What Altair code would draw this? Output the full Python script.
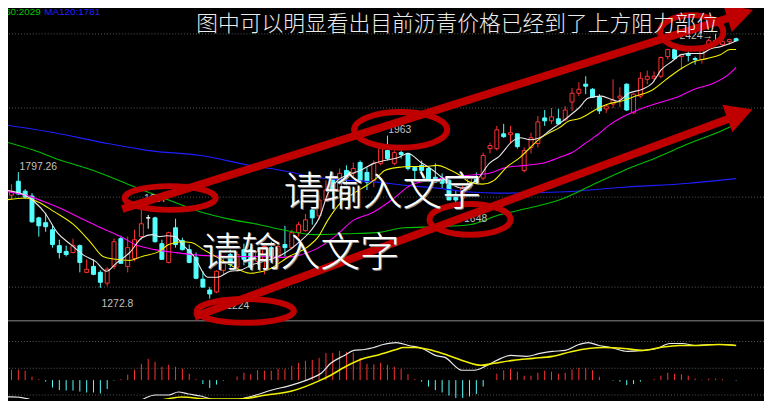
import altair as alt
import pandas as pd

# ---------------- data ----------------
OPEN = [1693, 1756, 1711, 1689, 1590, 1568, 1536, 1464, 1438, 1433,
        1464, 1343, 1370, 1343, 1294, 1370, 1496, 1370, 1406, 1505,
        1590, 1590, 1473, 1388, 1545, 1487, 1446, 1411, 1312, 1263,
        1254, 1352, 1424, 1366, 1446, 1446, 1393, 1402, 1455, 1411,
        1469, 1455, 1523, 1532, 1626, 1599, 1671, 1770, 1716, 1805,
        1792, 1841, 1796, 1760, 1837, 1895, 1837, 1886, 1882, 1819,
        1828, 1814, 1774, 1770, 1760, 1684, 1680, 1725, 1774, 1770,
        1904, 1904, 1971, 1967, 1971, 1805, 1909, 1927, 2043, 2030,
        2039, 2034, 2115, 2155, 2196, 2173, 2137, 2084, 2106, 2133,
        2196, 2066, 2142, 2218, 2223, 2232, 2321, 2353, 2321, 2335,
        2312, 2308, 2375, 2393, 2375, 2389, 2402]
HIGH = [1743, 1797.26, 1720, 1702, 1595, 1613, 1554, 1491, 1464, 1496,
        1469, 1402, 1402, 1352, 1366, 1496, 1509, 1505, 1536, 1657,
        1603, 1595, 1491, 1527, 1586, 1500, 1469, 1433, 1348, 1276,
        1352, 1411, 1446, 1438, 1473, 1460, 1455, 1473, 1482, 1482,
        1554, 1536, 1572, 1608, 1639, 1693, 1760, 1796, 1814, 1828,
        1841, 1850, 1819, 1850, 1913, 1963, 1895, 1895, 1886, 1823,
        1850, 1819, 1837, 1792, 1770, 1716, 1738, 1774, 1796, 1886,
        1931, 2007, 2016, 2007, 1971, 1909, 1976, 2052, 2079, 2088,
        2084, 2097, 2178, 2205, 2232, 2178, 2151, 2106, 2218, 2182,
        2200, 2155, 2250, 2258, 2254, 2321, 2357, 2357, 2335, 2344,
        2321, 2357, 2402, 2424, 2398, 2402, 2407]
LOW = [1675, 1693, 1675, 1568, 1505, 1527, 1455, 1406, 1415, 1429,
       1343, 1339, 1330, 1272.8, 1280, 1357, 1384, 1343, 1393, 1491,
       1541, 1478, 1402, 1384, 1455, 1442, 1384, 1312, 1276, 1224,
       1249, 1334, 1366, 1348, 1375, 1357, 1375, 1334, 1393, 1370,
       1415, 1446, 1505, 1527, 1559, 1581, 1662, 1693, 1680, 1738,
       1774, 1752, 1716, 1729, 1828, 1850, 1828, 1859, 1805, 1752,
       1787, 1752, 1752, 1725, 1671, 1648, 1662, 1716, 1747, 1760,
       1882, 1895, 1953, 1927, 1904, 1796, 1882, 1909, 2007, 2016,
       2016, 2030, 2075, 2142, 2151, 2133, 2061, 2066, 2088, 2093,
       2075, 2061, 2133, 2196, 2209, 2223, 2308, 2312, 2263, 2299,
       2285, 2290, 2357, 2380, 2366, 2375, 2389]
CLOSE = [1711, 1698, 1684, 1572, 1554, 1550, 1469, 1433, 1424, 1464,
         1388, 1357, 1334, 1298, 1357, 1482, 1384, 1455, 1491, 1563,
         1590, 1482, 1402, 1523, 1469, 1446, 1388, 1316, 1276, 1245,
         1348, 1384, 1379, 1424, 1402, 1366, 1438, 1460, 1415, 1460,
         1455, 1523, 1559, 1581, 1590, 1671, 1716, 1716, 1792, 1774,
         1814, 1760, 1752, 1837, 1904, 1859, 1886, 1877, 1814, 1805,
         1805, 1760, 1752, 1747, 1671, 1671, 1725, 1770, 1752, 1873,
         1918, 1989, 1958, 1976, 1913, 1895, 1953, 2025, 2030, 2048,
         2016, 2079, 2155, 2173, 2187, 2137, 2075, 2097, 2124, 2142,
         2079, 2151, 2223, 2232, 2232, 2317, 2353, 2312, 2330, 2326,
         2308, 2348, 2393, 2384, 2389, 2398, 2393]
MACD_HIST = [21, 21, 19, 7, 2, -3, -15, -20, -21, -21,
             -23, -25, -25, -27, -18, -1, 2, 11, 21, 33,
             43, 37, 27, 31, 27, 23, 13, 2, -8, -16,
             -9, -1, 0, 7, 15, 12, 20, 19, 19, 23,
             23, 29, 35, 39, 41, 45, 55, 55, 59, 57,
             55, 45, 33, 32, 35, 31, 27, 23, 12, 2,
             -3, -13, -20, -25, -31, -36, -36, -33, -28, -13,
             0, 13, 20, 23, 17, 9, 9, 15, 19, 17,
             13, 15, 22, 25, 25, 20, 7, 0, -1, -3,
             -10, -8, -3, 0, 2, 9, 15, 13, 12, 9,
             3, 1, 3, 3, 2, 0, -1]

MA5 = [(-0.9, 1716), (2.0, 1693), (3.4, 1662), (4.9, 1612), (6.7, 1523), (8.7, 1469), (10.6, 1420),
       (12.3, 1393), (13.9, 1348), (15.3, 1384), (17.3, 1433), (19.1, 1500), (20.6, 1514), (21.6, 1505),
       (22.7, 1509), (23.9, 1505), (25.3, 1460), (26.7, 1415), (28.7, 1321), (30.1, 1321), (32.0, 1348),
       (33.4, 1352), (35.3, 1379), (37.0, 1393), (39.6, 1424), (42.0, 1478), (43.9, 1536), (45.1, 1595),
       (46.3, 1702), (47.7, 1760), (49.1, 1783), (51.0, 1805), (53.0, 1837), (54.6, 1850), (56.6, 1864),
       (58.0, 1882), (59.9, 1841), (61.3, 1814), (63.1, 1770), (64.6, 1738), (66.0, 1725), (67.4, 1747),
       (68.4, 1774), (69.9, 1837), (71.3, 1868), (73.4, 1940), (74.4, 1953), (75.9, 1944), (77.3, 1953),
       (78.7, 1985), (80.1, 2016), (81.6, 2052), (83.0, 2088), (84.4, 2133), (86.3, 2142), (87.7, 2128),
       (88.7, 2119), (90.3, 2155), (92.3, 2173), (93.7, 2200), (95.1, 2263), (96.6, 2299), (98.0, 2330),
       (99.4, 2335), (100.9, 2335), (102.3, 2357), (103.7, 2366), (105.1, 2380), (106.0, 2393)]
MA10 = [(-0.9, 1671), (2.0, 1680), (3.9, 1662), (6.3, 1617), (9.1, 1559), (11.6, 1478), (13.4, 1415),
        (15.3, 1402), (17.3, 1397), (19.1, 1415), (21.6, 1438), (23.0, 1469), (24.9, 1482), (26.3, 1478),
        (28.1, 1446), (30.1, 1411), (32.4, 1370), (34.9, 1339), (37.7, 1357), (40.6, 1415), (43.4, 1460),
        (44.9, 1505), (46.3, 1581), (48.1, 1657), (50.1, 1702), (52.0, 1738), (53.4, 1770), (54.6, 1805),
        (56.6, 1819), (58.4, 1823), (60.3, 1823), (62.3, 1828), (63.7, 1814), (65.6, 1783), (67.0, 1752),
        (68.9, 1743), (70.6, 1760), (72.4, 1819), (74.4, 1864), (75.9, 1909), (77.3, 1949), (78.7, 1976),
        (80.1, 1998), (81.6, 2030), (83.0, 2039), (84.4, 2061), (85.9, 2088), (87.3, 2106), (89.1, 2119),
        (91.3, 2142), (93.7, 2169), (96.0, 2223), (98.0, 2267), (99.9, 2299), (101.7, 2312), (103.7, 2330),
        (105.1, 2353), (106.0, 2353)]
MA20 = [(-0.9, 1711), (2.0, 1693), (4.9, 1662), (7.7, 1626), (10.6, 1581), (13.4, 1541), (16.3, 1500),
        (18.1, 1469), (21.0, 1446), (23.9, 1433), (27.7, 1420), (32.4, 1415), (36.3, 1415), (39.6, 1411),
        (44.4, 1446), (47.3, 1505), (50.1, 1581), (52.7, 1612), (55.6, 1671), (58.4, 1738), (61.3, 1760),
        (64.1, 1774), (67.0, 1783), (69.9, 1792), (72.4, 1819), (75.3, 1828), (78.1, 1841), (80.1, 1864),
        (82.0, 1886), (83.9, 1927), (85.9, 1971), (87.7, 2016), (89.1, 2043), (91.3, 2075), (94.1, 2106),
        (97.0, 2133), (99.9, 2173), (102.7, 2200), (105.1, 2245), (106.0, 2272)]
MA60 = [(-0.9, 1935), (3.4, 1895), (7.3, 1850), (12.0, 1805), (16.7, 1747), (23.0, 1671), (27.7, 1617),
        (32.4, 1581), (36.3, 1559), (39.6, 1536), (44.4, 1514), (49.1, 1518), (53.4, 1523), (57.4, 1545),
        (62.3, 1550), (67.0, 1559), (71.3, 1603), (76.3, 1639), (80.1, 1671), (84.9, 1738), (89.6, 1805),
        (94.4, 1864), (99.1, 1927), (103.9, 1985), (106.0, 2016)]
MA120 = [(-0.9, 2012), (6.3, 1976), (13.4, 1931), (20.1, 1895), (27.7, 1873), (34.9, 1828), (39.6, 1805),
         (44.4, 1774), (49.1, 1760), (53.4, 1752), (57.4, 1738), (62.3, 1725), (67.0, 1707), (71.3, 1702),
         (80.1, 1707), (89.6, 1729), (99.1, 1747), (106.0, 1768)]
DIF = [(-0.9, -34), (0.1, -34), (2.4, -38), (4.9, -52), (10.6, -72), (14.9, -72), (17.7, -52), (19.6, -36),
       (21.0, -30), (23.0, -30), (24.4, -24), (25.9, -28), (27.7, -32), (29.9, -40), (32.4, -40), (35.3, -32),
       (38.1, -20), (41.0, -10), (43.9, 4), (45.3, 14), (46.7, 34), (48.7, 50), (50.1, 60), (51.6, 62),
       (53.0, 66), (54.4, 72), (56.3, 76), (58.1, 70), (60.1, 64), (62.0, 50), (63.4, 46), (65.9, 20),
       (67.7, 20), (69.6, 30), (71.6, 44), (73.0, 50), (75.3, 48), (77.3, 54), (79.1, 58), (81.0, 60),
       (83.0, 72), (84.4, 76), (85.9, 70), (87.7, 66), (90.1, 58), (92.4, 60), (94.4, 64), (96.3, 74),
       (98.1, 74), (100.1, 70), (102.0, 72), (103.9, 72), (106.0, 70)]
DEA = [(-0.9, -46), (7.7, -56), (16.3, -52), (22.0, -40), (24.9, -34), (28.7, -38), (33.4, -38), (37.3, -30),
       (41.0, -22), (44.9, -2), (46.7, 10), (48.7, 26), (51.6, 44), (53.9, 52), (56.3, 62), (57.3, 66),
       (59.1, 66), (61.6, 60), (63.9, 50), (66.3, 38), (68.7, 30), (70.6, 34), (73.4, 40), (76.3, 44),
       (79.1, 48), (82.0, 58), (84.4, 64), (86.7, 66), (89.6, 64), (92.4, 60), (94.9, 66), (97.7, 70),
       (100.6, 70), (103.4, 72), (106.0, 70)]

GRID_PRICE = [2424, 2088, 1684, 1276]
GRID_MACD = [78, 24, -30]
PANEL_SPLIT = [120]

PRICE_LABELS = [(3.93, 1807, "1797.26"), (15.5, 1186, "1272.8"), (21.07, 1662, "1657"),
                (56.8, 1976, "1963"), (67.9, 1572, "1648"), (33.1, 1177, "1224")]
TOP_LABEL = [(102.6, 2402, "2424\u2192")]
LEGEND_MA60 = [(-0.93, 2510, "60:2029")]
LEGEND_MA120 = [(4.79, 2510, "MA120:1781")]
TITLE = [(65.2, 2436, "图中可以明显看出目前沥青价格已经到了上方阻力部位")]
PLACEHOLDERS = [(54.3, 1648, "请输入文字"), (42.3, 1370, "请输入文字")]
ELLIPSES = [(23.21, 1680, 46, 12), (56.93, 1989, 47, 18), (67.07, 1583, 41, 15.5),
            (34.21, 1168, 49, 12), (99.5, 2433, 32, 17)]
ARROW_LINES = [("up", 16.21, 1630), ("up", 104.93, 2496), ("low", 26.79, 1142), ("low", 104.93, 2039)]
ARROW_HEADS = [(106.59, 2514, 342.7), (106.56, 2061, 340.0)]

# ---------------- layout / style ----------------
W, H = 764, 393
X_DOMAIN = [1.5 / 7, (1.5 + W) / 7]
PRICE_DOMAIN = [769.1, 2532.1]
MACD_DOMAIN = [-38, 748]

RED = "#ff3232"
CYAN = "#54ffff"
DARKRED = "#c00000"
GRID = "#5a5a5a"
LABEL = "#c0c0c0"
NUMFONT = "Liberation Sans"
CJK = "Noto Sans CJK SC"


def xenc(field="idx"):
    return alt.X(f"{field}:Q", scale=alt.Scale(domain=X_DOMAIN, nice=False, zero=False), axis=None)


def yp(field):
    return alt.Y(f"{field}:Q", scale=alt.Scale(domain=PRICE_DOMAIN, nice=False, zero=False), axis=None)


def ym(field):
    return alt.Y(f"{field}:Q", scale=alt.Scale(domain=MACD_DOMAIN, nice=False, zero=False), axis=None)


candles = pd.DataFrame({"idx": range(len(OPEN)), "open": OPEN, "high": HIGH, "low": LOW, "close": CLOSE})
up = candles[candles.close > candles.open]
down = candles[candles.close < candles.open]
flat = candles[candles.close == candles.open]

layers = []

# grid lines
layers.append(alt.Chart(pd.DataFrame({"p": GRID_PRICE})).mark_rule(
    color=GRID, strokeDash=[1, 2], strokeWidth=1).encode(y=yp("p")))
layers.append(alt.Chart(pd.DataFrame({"v": GRID_MACD})).mark_rule(
    color=GRID, strokeDash=[1, 2], strokeWidth=1).encode(y=ym("v")))
layers.append(alt.Chart(pd.DataFrame({"v": PANEL_SPLIT})).mark_rule(
    color="#5c5c5c", strokeWidth=1.5).encode(y=ym("v")))

# candles
for df, col, fill in [(up, RED, "#000000"), (down, CYAN, CYAN), (flat, "#ffffff", "#ffffff")]:
    layers.append(alt.Chart(df).mark_rule(color=col, strokeWidth=1).encode(
        x=xenc(), y=yp("low"), y2=alt.Y2("high")))
    layers.append(alt.Chart(df).mark_bar(size=4, fill=fill, stroke=col, strokeWidth=1, opacity=1).encode(
        x=xenc(), y=yp("open"), y2=alt.Y2("close")))


def line(pairs, color, width, scale_fn):
    df = pd.DataFrame(pairs, columns=["idx", "v"])
    return alt.Chart(df).mark_line(color=color, strokeWidth=width, interpolate="monotone", clip=True).encode(
        x=xenc(), y=scale_fn("v"), order="idx:Q")


layers.append(line(MA120, "#1e1eff", 1.1, yp))
layers.append(line(MA60, "#00c000", 1.1, yp))
layers.append(line(MA20, "#ff00ff", 1.1, yp))
layers.append(line(MA10, "#f0f000", 1.1, yp))
layers.append(line(MA5, "#e8e8e8", 1.1, yp))

# MACD histogram
hist = pd.DataFrame({"idx": range(len(MACD_HIST)), "v": MACD_HIST, "zero": 0})
layers.append(alt.Chart(hist[hist.v > 0]).mark_rule(color=RED, strokeWidth=1).encode(
    x=xenc(), y=ym("zero"), y2=alt.Y2("v")))
layers.append(alt.Chart(hist[hist.v < 0]).mark_rule(color=CYAN, strokeWidth=1).encode(
    x=xenc(), y=ym("zero"), y2=alt.Y2("v")))
layers.append(line(DIF, "#e8e8e8", 1.2, ym))
layers.append(line(DEA, "#f0f000", 1.6, ym))


def text(rows, color, size, font, align="center", dx=0, dy=0, weight="normal"):
    df = pd.DataFrame(rows, columns=["idx", "p", "t"])
    return alt.Chart(df).mark_text(color=color, fontSize=size, font=font, align=align,
                                   baseline="alphabetic", dx=dx, dy=dy, fontWeight=weight).encode(
        x=xenc(), y=yp("p"), text="t:N")


layers.append(text(PRICE_LABELS, LABEL, 10.5, NUMFONT))
layers.append(text(TOP_LABEL, LABEL, 10.5, NUMFONT, align="right"))
layers.append(text(LEGEND_MA60, "#00c800", 10, NUMFONT, align="left"))
layers.append(text(LEGEND_MA120, "#2020ff", 10, NUMFONT, align="left"))


# ellipses
def ellipse_path(a):
    k = 0.5523
    return (f"M1,0 C1,{k*a:.4f} {k:.4f},{a:.4f} 0,{a:.4f} C{-k:.4f},{a:.4f} -1,{k*a:.4f} -1,0 "
            f"C-1,{-k*a:.4f} {-k:.4f},{-a:.4f} 0,{-a:.4f} C{k:.4f},{-a:.4f} 1,{-k*a:.4f} 1,0 Z")


ell = pd.DataFrame(ELLIPSES, columns=["idx", "p", "rx", "ry"])
ell["shape"] = [ellipse_path(ry / rx) for rx, ry in zip(ell.rx, ell.ry)]
ell["size"] = (2 * ell.rx) ** 2
layers.append(alt.Chart(ell).mark_point(filled=False, color=DARKRED, strokeWidth=6, opacity=1).encode(
    x=xenc(), y=yp("p"), shape=alt.Shape("shape:N", scale=None), size=alt.Size("size:Q", scale=None)))

# arrows
arr = pd.DataFrame(ARROW_LINES, columns=["arrow", "idx", "p"])
layers.append(alt.Chart(arr).mark_line(color=DARKRED, strokeWidth=8, strokeCap="butt").encode(
    x=xenc(), y=yp("p"), detail="arrow:N"))
heads = pd.DataFrame(ARROW_HEADS, columns=["idx", "p", "angle"])
layers.append(alt.Chart(heads).mark_point(filled=True, color=DARKRED, opacity=1, strokeWidth=0).encode(
    x=xenc(), y=yp("p"), shape=alt.value("M1,0 L-1,-1.1 L-1,1.1 Z"), size=alt.value(729),
    angle=alt.Angle("angle:Q", scale=None)))

# titles / placeholder texts
layers.append(text(TITLE, "#ececec", 22, CJK, weight=300))
layers.append(text(PLACEHOLDERS, "#8c8c8c", 40, CJK, dx=1, dy=1, weight=300))
layers.append(text(PLACEHOLDERS, "#ffffff", 40, CJK, weight=300))

chart = alt.layer(*layers).resolve_scale(y="independent").properties(
    width=W, height=H, background="#000000", padding=0,
    autosize=alt.AutoSizeParams(type="none")
).configure_view(stroke=None)

chart.save("out.html", embed_options={"renderer": "svg", "actions": False})
